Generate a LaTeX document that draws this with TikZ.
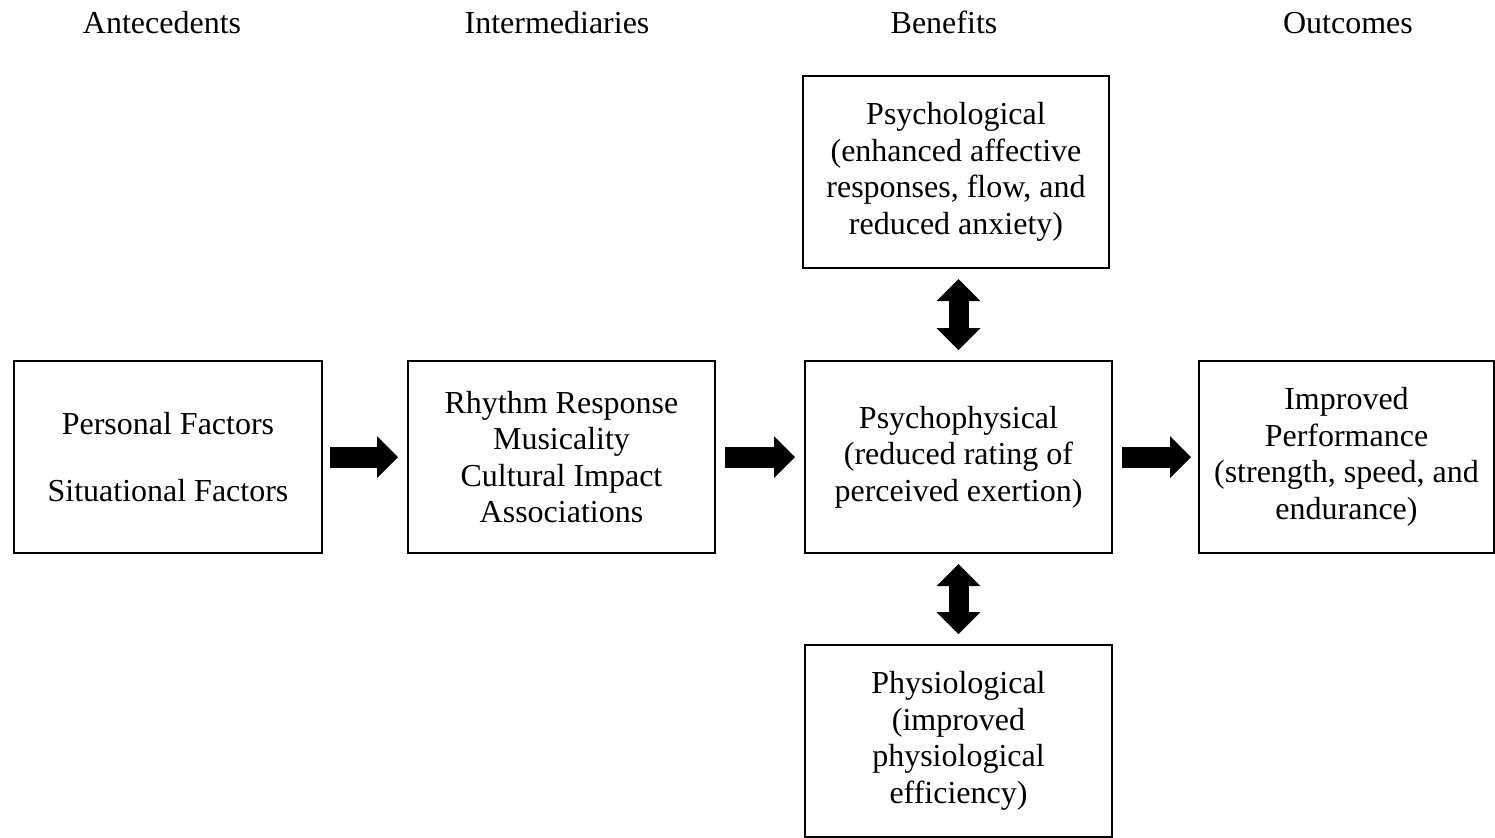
\documentclass[tikz,border=0pt]{standalone}
\usepackage{fontspec}
\setmainfont{Liberation Serif}
\usetikzlibrary{arrows.meta, positioning}
\tikzset{
  box/.style={draw=black, line width=1pt, align=center, inner sep=0pt, outer sep=0pt,
              minimum width=153.5pt, minimum height=96pt,
              font=\fontsize{16pt}{18.25pt}\selectfont},
  head/.style={anchor=base, inner sep=0pt, font=\fontsize{16pt}{18.25pt}\selectfont},
  blk/.style={line width=10.5pt, draw=black,
              -{Triangle[length=10.5pt, width=21pt, line width=0pt]}},
  biblk/.style={line width=10pt, draw=black,
              {Triangle[length=11pt, width=22pt, line width=0pt]}-{Triangle[length=11pt, width=22pt, line width=0pt]}},
}

\begin{document}
\begin{tikzpicture}[x=0.5pt, y=-0.5pt]
  \useasboundingbox (0,0) rectangle (1495,837);

  % column headings
  \node (hant) [head] at (162,33)  {Antecedents};
  \node (hint) [head] at (557,33)  {Intermediaries};
  \node (hben) [head] at (944,33)  {Benefits};
  \node (hout) [head] at (1348,33) {Outcomes};

  % boxes
  \node (pp)  [box] at (958.5,457) {Psychophysical\\(reduced rating of\\perceived exertion)};
  \node (mid) [box, left=45pt of pp] {Rhythm Response\\Musicality\\Cultural Impact\\Associations};
  \node (fac) [box, minimum width=154pt, left=43pt of mid] {Personal Factors\\[15pt]Situational Factors};
  \node (out) [box, minimum width=147.5pt, right=43.5pt of pp] {Improved\\Performance\\(strength, speed, and\\endurance)};
  \node (psy) [box, minimum width=153pt, above=46.5pt of pp, xshift=-1.25pt] {Psychological\\(enhanced affective\\responses, flow, and\\reduced anxiety)};
  \node (phy) [box, below=46pt of pp] {Physiological\\(improved\\physiological\\efficiency)};

  % block arrows
  \draw[blk, shorten <=4pt, shorten >=5pt] (fac) -- (mid);
  \draw[blk, shorten <=5pt, shorten >=5pt] (mid) -- (pp);
  \draw[blk, shorten <=5pt, shorten >=4pt] (pp) -- (out);
  \draw[biblk, shorten <=5.5pt, shorten >=5.5pt] (psy.south -| pp.north) -- (pp.north);
  \draw[biblk, shorten <=5.5pt, shorten >=5.5pt] (pp.south) -- (phy.north);
\end{tikzpicture}
\end{document}
